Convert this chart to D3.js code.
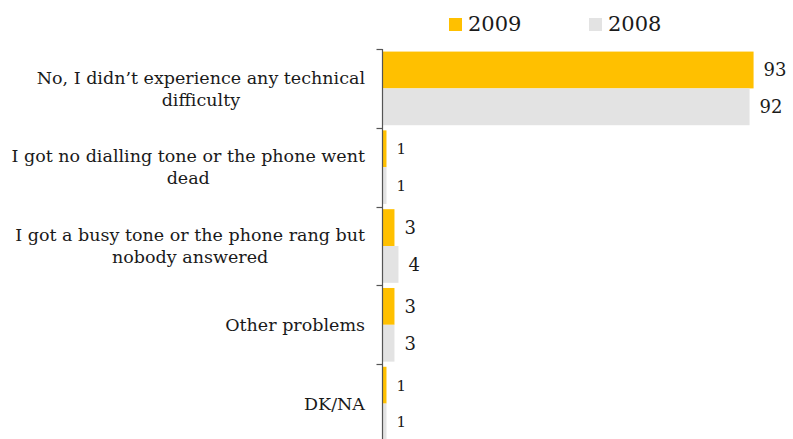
<!DOCTYPE html>
<html>
<head>
<meta charset="utf-8">
<script src="https://cdn.jsdelivr.net/npm/d3@7"></script>
<style>
  html, body { margin: 0; padding: 0; background: #fff; }
  svg { display: block; }
  text { font-family: "DejaVu Serif", Georgia, serif; fill: #1a1a1a; }
</style>
</head>
<body>
<svg id="chart" width="793" height="439"></svg>
<script>
const categories = [
  "No, I didn\u2019t experience any technical\ndifficulty",
  "I got no dialling tone or the phone went\ndead",
  "I got a busy tone or the phone rang but\nnobody answered",
  "Other problems",
  "DK/NA"
];
const seriesNames = ["2009", "2008"];
const values2009 = [93, 1, 3, 3, 1];
const values2008 = [92, 1, 4, 3, 1];
const seriesColors = ["#FFC000", "#E3E3E3"];

(function() {
const svg = d3.select("#chart");
const W = 793, H = 439;
const axisX = 382.5;
const plotTop = 49, step = 78.8;

const x = d3.scaleLinear().domain([0, 100]).range([axisX, axisX + 399]);
const y0 = d3.scaleBand().domain(categories).range([plotTop, plotTop + step * categories.length]).padding(0);
const y1 = d3.scaleBand().domain(seriesNames).range([0, y0.bandwidth()]).paddingInner(0).paddingOuter(0.07);

const data = categories.map((c, i) => ({cat: c, vals: [
  {s: "2009", v: values2009[i]}, {s: "2008", v: values2008[i]}
]}));

const g = svg.append("g");
const groups = g.selectAll("g.grp").data(data).join("g")
  .attr("class", "grp")
  .attr("transform", d => `translate(0,${y0(d.cat)})`);

groups.selectAll("rect").data(d => d.vals).join("rect")
  .attr("x", x(0))
  .attr("y", d => y1(d.s))
  .attr("width", d => x(d.v) - x(0))
  .attr("height", y1.bandwidth())
  .attr("fill", d => seriesColors[seriesNames.indexOf(d.s)]);

groups.selectAll("text.val").data(d => d.vals).join("text")
  .attr("class", "val")
  .attr("x", d => x(d.v) + 10)
  .attr("y", d => y1(d.s) + y1.bandwidth() / 2)
  .attr("dy", "0.36em")
  .style("font-size", d => d.v >= 3 ? "18px" : "15px")
  .text(d => d.v);

// axis
const yAxis = d3.axisLeft(y0).tickSize(0).tickFormat("");
const ax = svg.append("g").attr("transform", `translate(${axisX},0)`).call(yAxis);
ax.select(".domain").attr("stroke", "#555").attr("stroke-width", 1.2).attr("d", `M0,${plotTop}V${H + 5}`);
const bounds = categories.map(c => y0(c)).concat([plotTop + step * categories.length]);
ax.selectAll("line.bt").data(bounds).join("line")
  .attr("class", "bt")
  .attr("x1", -6).attr("x2", 0)
  .attr("y1", d => Math.round(d) + 0.5).attr("y2", d => Math.round(d) + 0.5)
  .attr("stroke", "#555").attr("stroke-width", 1.2);

// category labels: block right-aligned, lines centered within block
const lineH = 22;
const labelRight = 365;
svg.append("g").selectAll("text.cat").data(categories).join("text")
  .attr("class", "cat")
  .attr("text-anchor", "middle")
  .style("font-size", "17.5px")
  .each(function(c) {
    const lines = c.split("\n");
    const cy = y0(c) + y0.bandwidth() / 2;
    const t = d3.select(this);
    const spans = lines.map((ln, i) => t.append("tspan")
        .attr("y", cy + (i - (lines.length - 1) / 2) * lineH)
        .attr("dy", "0.35em")
        .text(ln));
    const maxW = d3.max(spans, s => s.node().getComputedTextLength());
    spans.forEach(s => s.attr("x", labelRight - maxW / 2));
  });

// legend
const legX = [449, 589];
const leg = svg.append("g").selectAll("g").data(seriesNames).join("g")
  .attr("transform", (d, i) => `translate(${legX[i]},18)`);
leg.append("rect").attr("width", 13).attr("height", 13)
  .attr("fill", (d, i) => seriesColors[i]);
leg.append("text").attr("x", 19).attr("y", 13).style("font-size", "21px").text(d => d);
})();
</script>
</body>
</html>
